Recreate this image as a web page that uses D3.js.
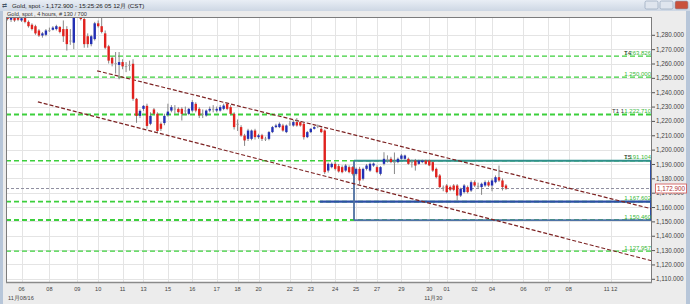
<!DOCTYPE html>
<html>
<head>
<meta charset="utf-8">
<script src="https://cdn.jsdelivr.net/npm/d3@7/dist/d3.min.js"></script>
<style>
  body { margin: 0; background: #ececec; }
  svg { display: block; font-family: "Liberation Sans", Arial, sans-serif; }
</style>
</head>
<body>
<div id="chart"></div>
<script>
// 4 hour candles (oldest first)
var opens = [1295,1290.5,1293,1292,1290,1292,1289,1287,1286,1283,1279.5,1280,1283,1283.5,1284,1285.5,1284,1284,1276,1274.5,
  1297,1294,1291,1279,1273.5,1277,1288,1286,1281,1272,1264,1260,1259,1261,1258,1259,1259.8,1235.4,1223.5,1228.4,
  1230.5,1218,1228,1225,1218,1218.5,1224,1227.2,1228.4,1228.4,1228.4,1227,1224.9,1227.2,1231.9,1228.4,1225,1223.8,1227.2,1228.4,
  1227.2,1227.2,1228.4,1231.9,1229.6,1224.9,1218,1215.7,1209.8,1207.5,1207.5,1213.3,1208.7,1210,1207.5,1207.5,1212.2,1215.7,1215.7,1216.8,
  1212.2,1218,1216.8,1219.2,1219.2,1218,1208.7,1212.2,1214.5,1216.3,1214.5,1213.3,1185.4,1187.8,1190.1,1188.5,1187.8,1185.4,1187.8,1187.8,
  1183.1,1186.6,1179.7,1186.6,1185.4,1188.9,1187.8,1183.1,1190.1,1193,1193.6,1191.3,1191.3,1193.6,1193.6,1193.6,1191.3,1192.4,1190.1,1191.3,
  1192.4,1192.4,1191.3,1186.6,1182,1173.5,1175,1174,1175,1175,1168,1170.4,1173.9,1171.5,1177.3,1174.5,1173.9,1175,1177.3,1175,
  1177.3,1180.8,1178.5,1175];
var highs = [1297,1294,1295,1294,1292,1294,1290,1288,1287,1284,1282,1284,1285,1286,1287,1286,1290,1286,1284,1297,
  1298,1296,1292,1281,1280,1289,1290,1294,1283,1273,1265,1268,1268,1263,1261,1262,1263,1236,1228,1231,
  1232,1226,1229,1226,1219,1225,1232,1231,1231,1229.5,1229.5,1230,1229,1234.5,1233,1229.5,1228,1228,1230,1231,
  1230,1231,1232,1232.5,1231,1226,1221,1217,1211,1214.5,1214,1214.5,1211,1211,1209,1213,1216.5,1218,1219,1218,
  1217.5,1220,1220.5,1222,1220,1219,1213,1215,1216.5,1217.5,1215.5,1214,1191,1191,1191.5,1190,1189,1190,1189,1188.5,
  1187.5,1188,1187.5,1190,1191,1191,1189,1188.5,1198.2,1196,1195,1198,1194.5,1197,1196.5,1194.5,1193,1193.5,1193,1193,
  1193,1193,1192,1187.5,1183,1175,1176,1175,1176,1176,1173.5,1176,1175,1178.5,1178.5,1177,1177,1178.5,1178.5,1180,
  1182,1188.9,1180,1176];
var lows = [1290,1289,1289,1289.5,1289,1288,1285,1283,1280,1278.5,1278,1279,1282,1283,1283,1281,1275,1269,1273,1270,
  1293,1290,1271,1271,1272,1276,1285,1281,1270,1260,1258,1253,1249,1256,1254,1255,1234,1218.7,1222,1227,
  1214.5,1217,1224,1212,1213,1217,1223,1226,1225,1225,1220.3,1224,1224,1226,1226,1222,1222,1223,1226,1226,
  1226,1226.5,1227.5,1227.5,1224,1214,1213,1209,1202.6,1206,1206.5,1207,1207.5,1206,1206,1206.5,1211.5,1215,1215,1212.5,
  1211.5,1216.5,1216,1216,1216,1207,1208,1211.5,1214,1215,1211.5,1183,1184,1187,1185.5,1184,1183.5,1184.5,1183.5,1182,
  1182,1176,1178.5,1185.5,1184.5,1188,1183.5,1182,1189,1191,1190.5,1183,1190.5,1193,1193,1189.5,1187.5,1185.4,1189.5,1190.5,
  1189.5,1188.5,1184.5,1180,1173,1171,1169.5,1171,1171,1164.6,1167,1169.5,1169.5,1170.5,1174,1173,1168.5,1174,1174,1171,
  1176.5,1177.5,1171.5,1172];
var closes = [1291,1292,1290,1290.5,1291.5,1289,1286,1284,1281,1279.5,1281,1283,1283.2,1285,1286,1282,1279,1273.5,1275.5,1294,
  1294,1291,1273.5,1273.5,1279,1288,1286,1282,1271,1262,1260,1260.3,1261,1258,1258.2,1258.6,1235.4,1223.5,1227,1230.5,
  1216.5,1223.5,1225,1213,1214.5,1223.5,1226.5,1229.6,1228.6,1226.1,1224.9,1227.3,1228.4,1233.1,1227.2,1223.8,1224.8,1227.2,1228.4,1228.5,
  1228.4,1229.6,1230.7,1228.4,1224.9,1215.7,1217.6,1209.8,1206.4,1213.3,1213.3,1208.7,1210,1207.5,1207.7,1212.2,1215.7,1216.8,1218,1213.3,
  1216.8,1218.2,1219.2,1216.8,1216.8,1208.7,1212.2,1214.5,1215.7,1216.5,1212.2,1184.3,1190.1,1190.1,1186.6,1184.8,1184.3,1188.9,1184.3,1183.1,
  1186.6,1178.5,1186.6,1188.9,1190.1,1190.3,1184.3,1187.8,1193.6,1193.3,1191.3,1191.5,1193.6,1195.9,1195.9,1190.1,1191.5,1188.9,1192.4,1192.4,
  1190.1,1189,1185.4,1180.8,1173.9,1173.7,1170.4,1172,1172,1168,1172.7,1175,1170.4,1177.3,1175,1174.8,1176.2,1177.3,1175,1178.5,
  1180.8,1178.5,1173.9,1172.9];

var lastPrice = 1172.9;
var priceTicks = d3.range(1110, 1281, 10);

// date labels on the time axis (bar index where the label sits)
var dateIndex = [4,12,20,26,33,39,46,53,60,66,72,81,87,94,100,106,113,121,126,134,139,148,155,161,173];
var dateLabels = ["06","08","09","10","11","13","15","16","17","18","20","22","23","24","25","27","29","30","01","02","04","06","07","08","11 12"];
var monthIndex = [0, 121];
var monthLabels = ["11月08/16", "11月30"];

// retracement levels: value where the line is drawn, its label and tag
var levelValues = [1265.2, 1250.5, 1224.5, 1192.2, 1163.8, 1150.9, 1129.3];
var levelLabels = ["1,263.826", "1,250.000", "1,222.710", "1,191.104", "1,167.602", "1,150.460", "1,127.957"];
var levelTags = ["T4", "", "T1 1", "T5", "", "", ""];
var levelWidths = [1.3, 1.3, 2, 1.6, 1.6, 2, 1.4];

// trend channel: [bar index, price] at each end
var upperChannel = [[25.7, 1254.9], [184.9, 1158.7]];
var lowerChannel = [[8.7, 1233.3], [184.9, 1122.5]];

// drawn box and support line
var boxStart = 99.4, boxTop = 1192.2, boxBottom = 1150.9;
var supportStart = 89.6, supportValue = 1163.8;

var W = 690, H = 304;
var plotLeft = 6, plotRight = 652, plotTop = 17, plotBottom = 283;

var svg = d3.select("#chart").append("svg")
    .attr("width", W)
    .attr("height", H);

// window chrome
var grad = svg.append("defs").append("linearGradient")
    .attr("id", "titleGrad").attr("x1", 0).attr("y1", 0).attr("x2", 0).attr("y2", 1);
grad.append("stop").attr("offset", "0%").attr("stop-color", "#e9eef5");
grad.append("stop").attr("offset", "100%").attr("stop-color", "#cdd7e4");

svg.append("rect").attr("x", 0).attr("y", 0).attr("width", W).attr("height", H).attr("fill", "#ececec");
svg.append("rect").attr("x", 0).attr("y", 0).attr("width", W).attr("height", 11).attr("fill", "url(#titleGrad)");
svg.append("rect").attr("x", 0).attr("y", 11).attr("width", 3).attr("height", H - 11).attr("fill", "#b7c6d9");
svg.append("rect").attr("x", W - 4).attr("y", 11).attr("width", 4).attr("height", H - 11).attr("fill", "#b7c6d9");

svg.append("text").attr("x", 2).attr("y", 8).attr("font-size", 6).attr("fill", "#456").text("⇄");
svg.append("text")
    .attr("x", 12).attr("y", 8)
    .attr("font-size", 6.2)
    .attr("fill", "#222")
    .text("Gold, spot - 1,172.900 - 15:25:26  05 12月 (CST)");

var buttons = [[645, "#dfe5ee"], [660, "#dfe5ee"], [675, "#c9513c"]];
buttons.forEach(function(b) {
  svg.append("rect").attr("x", b[0]).attr("y", 1).attr("width", 13).attr("height", 8)
     .attr("rx", 1.5).attr("fill", b[1]).attr("stroke", "#8a9bb3").attr("stroke-width", 0.6);
});

svg.append("text")
    .attr("x", 7).attr("y", 15.5)
    .attr("font-size", 5.6)
    .attr("fill", "#333")
    .text("Gold, spot , 4 hours, # 130 / 700");

// scales
var xScale = d3.scaleLinear()
    .domain([-0.45, 184.9])
    .range([plotLeft, plotRight]);

var yScale = d3.scaleLinear()
    .domain([1110, 1280])
    .range([278.8, 34.8]);

svg.append("rect")
    .attr("x", plotLeft).attr("y", plotTop)
    .attr("width", plotRight - plotLeft).attr("height", plotBottom - plotTop)
    .attr("fill", "#fff");

svg.append("defs").append("clipPath").attr("id", "plotClip")
  .append("rect").attr("x", plotLeft).attr("y", plotTop)
    .attr("width", plotRight - plotLeft).attr("height", plotBottom - plotTop);

var plot = svg.append("g").attr("clip-path", "url(#plotClip)");

// grid
plot.selectAll(".hgrid")
    .data(priceTicks)
  .enter().append("line")
    .attr("class", "hgrid")
    .attr("x1", plotLeft).attr("x2", plotRight)
    .attr("y1", function(d) { return Math.round(yScale(d)) + 0.5; })
    .attr("y2", function(d) { return Math.round(yScale(d)) + 0.5; })
    .style("stroke", "#e4e4e4");

plot.selectAll(".vgrid")
    .data(dateIndex)
  .enter().append("line")
    .attr("class", "vgrid")
    .attr("y1", plotTop).attr("y2", plotBottom)
    .attr("x1", function(d) { return Math.round(xScale(d)) + 0.5; })
    .attr("x2", function(d) { return Math.round(xScale(d)) + 0.5; })
    .style("stroke", "#e4e4e4");

// retracement lines
plot.selectAll(".level")
    .data(levelValues)
  .enter().append("line")
    .attr("class", "level")
    .attr("x1", plotLeft).attr("x2", plotRight)
    .attr("y1", function(d) { return yScale(d); })
    .attr("y2", function(d) { return yScale(d); })
    .style("stroke", "#3ccf3c")
    .style("stroke-dasharray", "5,3")
    .style("stroke-width", function(d, i) { return levelWidths[i]; });

// last price line
plot.append("line")
    .attr("x1", plotLeft).attr("x2", plotRight)
    .attr("y1", yScale(lastPrice)).attr("y2", yScale(lastPrice))
    .style("stroke", "#8f8fa0")
    .style("stroke-dasharray", "3,2")
    .style("stroke-width", 1);

// box and support line
plot.append("line")
    .attr("x1", xScale(supportStart)).attr("x2", plotRight)
    .attr("y1", yScale(supportValue)).attr("y2", yScale(supportValue))
    .style("stroke", "#2d4fa6")
    .style("stroke-width", 2.4);

plot.append("line")
    .attr("x1", xScale(boxStart)).attr("x2", plotRight - 1)
    .attr("y1", yScale(boxTop)).attr("y2", yScale(boxTop))
    .style("stroke", "#2f8f8c")
    .style("stroke-width", 2);
plot.append("line")
    .attr("x1", xScale(boxStart)).attr("x2", plotRight - 1)
    .attr("y1", yScale(boxBottom)).attr("y2", yScale(boxBottom))
    .style("stroke", "#4d73a6")
    .style("stroke-width", 1.8);
plot.append("line")
    .attr("x1", xScale(boxStart)).attr("x2", xScale(boxStart))
    .attr("y1", yScale(boxTop)).attr("y2", yScale(boxBottom))
    .style("stroke", "#4d6fa0")
    .style("stroke-width", 1.8);
plot.append("line")
    .attr("x1", plotRight - 1).attr("x2", plotRight - 1)
    .attr("y1", yScale(boxTop)).attr("y2", yScale(boxBottom))
    .style("stroke", "#2d4fa6")
    .style("stroke-width", 2);

// channel lines
[upperChannel, lowerChannel].forEach(function(c) {
  plot.append("line")
      .attr("x1", xScale(c[0][0])).attr("y1", yScale(c[0][1]))
      .attr("x2", xScale(c[1][0])).attr("y2", yScale(c[1][1]))
      .style("stroke", "#7d2323")
      .style("stroke-dasharray", "4,2")
      .style("stroke-width", 1.2);
});

// candles
var candles = opens.map(function(o, i) {
  return {i: i, o: o, h: highs[i], l: lows[i], c: closes[i]};
});
function candleColor(d) {
  if (Math.abs(d.c - d.o) < 0.6) return "#a0a0a0";
  return d.c > d.o ? "#2330b4" : "#e0221e";
}
var bw = 2.4;

plot.selectAll(".wick")
    .data(candles)
  .enter().append("line")
    .attr("class", "wick")
    .attr("x1", function(d) { return xScale(d.i); })
    .attr("x2", function(d) { return xScale(d.i); })
    .attr("y1", function(d) { return yScale(d.h); })
    .attr("y2", function(d) { return yScale(d.l); })
    .style("stroke", "#7a7a7a")
    .style("stroke-width", 0.9);

plot.selectAll(".body")
    .data(candles)
  .enter().append("rect")
    .attr("class", "body")
    .attr("x", function(d) { return xScale(d.i) - bw / 2; })
    .attr("width", bw)
    .attr("y", function(d) { return yScale(Math.max(d.o, d.c)); })
    .attr("height", function(d) { return Math.max(1, Math.abs(yScale(d.o) - yScale(d.c))); })
    .style("fill", candleColor);

// level labels
plot.selectAll(".levelLabel")
    .data(levelValues)
  .enter().append("text")
    .attr("class", "levelLabel")
    .attr("x", plotRight - 1)
    .attr("y", function(d) { return yScale(d) - 1.5; })
    .attr("text-anchor", "end")
    .attr("font-size", 6)
    .attr("fill", "#37b837")
    .text(function(d, i) { return levelLabels[i]; });

plot.selectAll(".levelTag")
    .data(levelValues)
  .enter().append("text")
    .attr("class", "levelTag")
    .attr("x", function(d, i) { return levelTags[i] === "T1 1" ? 612 : 624; })
    .attr("y", function(d) { return yScale(d) - 1.5; })
    .attr("font-size", 6)
    .attr("fill", "#333")
    .text(function(d, i) { return levelTags[i]; });

// plot frame
svg.append("rect")
    .attr("x", plotLeft + 0.5).attr("y", plotTop + 0.5)
    .attr("width", plotRight - plotLeft - 1).attr("height", plotBottom - plotTop - 1)
    .attr("fill", "none")
    .attr("stroke", "#7c7c7c");
svg.append("line")
    .attr("x1", plotLeft).attr("x2", plotRight)
    .attr("y1", plotBottom - 0.5).attr("y2", plotBottom - 0.5)
    .attr("stroke", "#8a8a8a").attr("stroke-width", 1.5);

// price axis
var yAxis = d3.axisRight(yScale)
    .tickValues(priceTicks)
    .tickSize(3)
    .tickPadding(1)
    .tickFormat(d3.format(",.3f"));

var gy = svg.append("g")
    .attr("transform", "translate(" + plotRight + ",0)")
    .call(yAxis);
gy.select(".domain").remove();
gy.selectAll("line").attr("stroke", "#555");
gy.selectAll("text")
    .attr("font-size", 6.3)
    .attr("font-family", "Liberation Sans, Arial, sans-serif")
    .attr("fill", "#444");

// last price marker
svg.append("rect")
    .attr("x", 655.5).attr("y", yScale(lastPrice) - 4.5)
    .attr("width", 31).attr("height", 9)
    .attr("fill", "#fff")
    .attr("stroke", "#d05050")
    .attr("stroke-width", 0.8);
svg.append("text")
    .attr("x", 657).attr("y", yScale(lastPrice) + 2.2)
    .attr("font-size", 6.3)
    .attr("fill", "#b03030")
    .text(d3.format(",.3f")(lastPrice));

// time axis labels
svg.selectAll(".dateLabel")
    .data(dateIndex)
  .enter().append("text")
    .attr("class", "dateLabel")
    .attr("x", function(d) { return xScale(d); })
    .attr("y", 290.5)
    .attr("text-anchor", "middle")
    .attr("font-size", 5.6)
    .attr("fill", "#444")
    .text(function(d, i) { return dateLabels[i]; });

svg.selectAll(".monthLabel")
    .data(monthIndex)
  .enter().append("text")
    .attr("class", "monthLabel")
    .attr("x", function(d, i) { return i === 0 ? 8 : xScale(d) - 5; })
    .attr("y", 299.5)
    .attr("font-size", 5.6)
    .attr("fill", "#444")
    .text(function(d, i) { return monthLabels[i]; });
</script>
</body>
</html>
